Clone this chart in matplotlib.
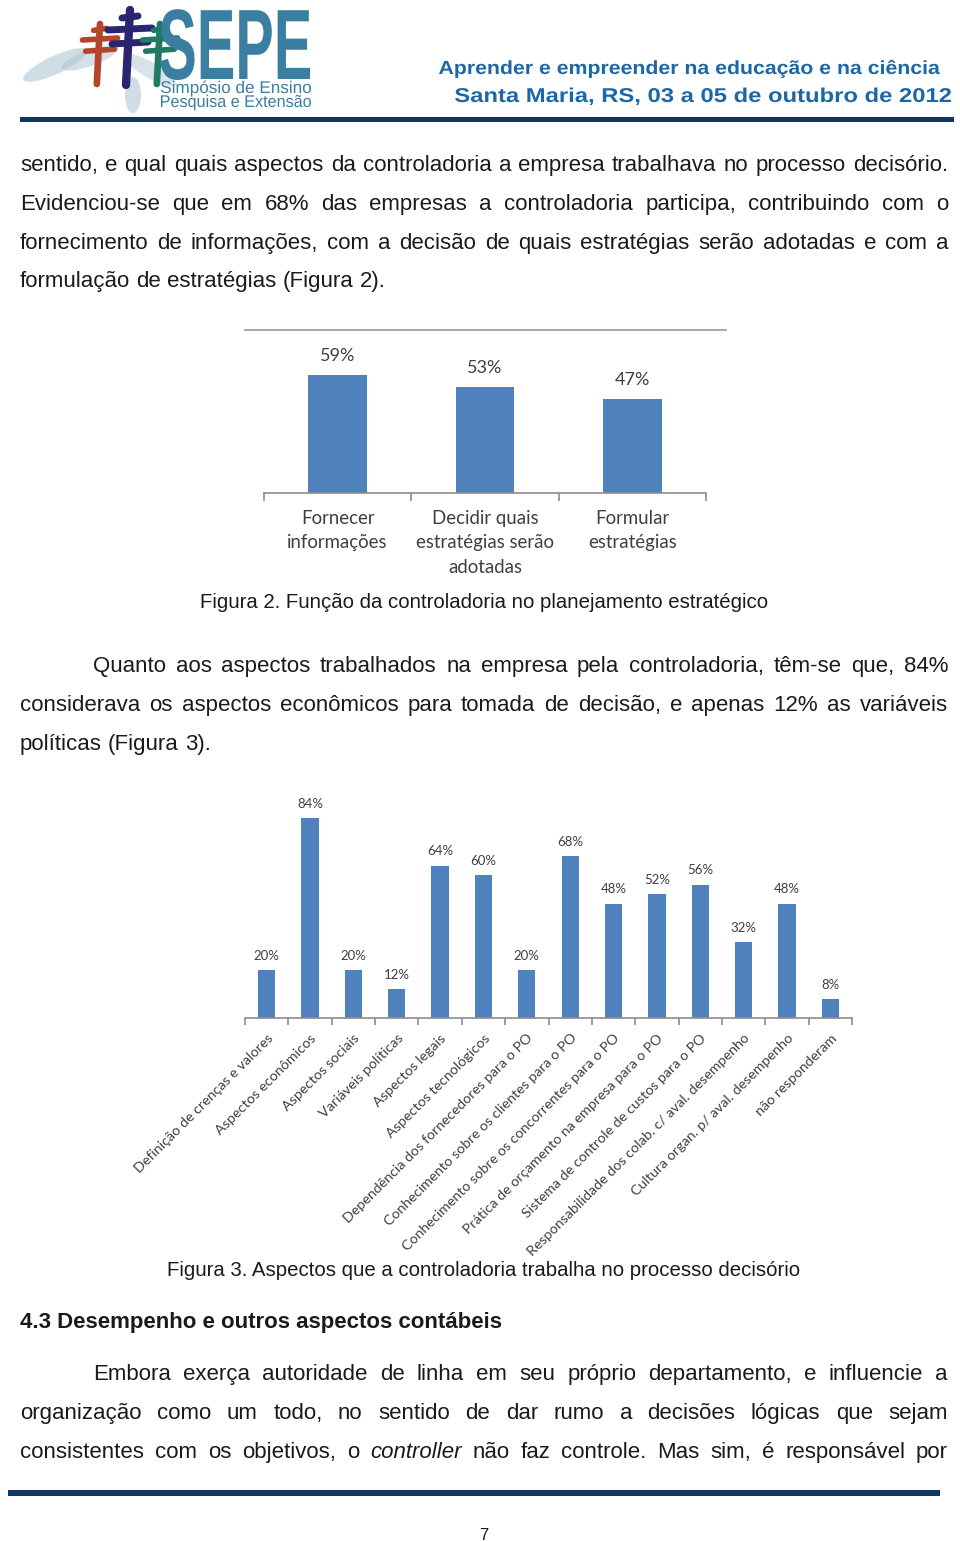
import matplotlib
matplotlib.use("Agg")
import matplotlib.pyplot as plt
from matplotlib.textpath import TextPath
from matplotlib.patches import PathPatch, Ellipse
from matplotlib.font_manager import FontProperties
from matplotlib.transforms import Affine2D
import numpy as np

# ---------------- data ----------------
fig2_categories = ["Fornecer\ninformações", "Decidir quais\nestratégias serão\nadotadas", "Formular\nestratégias"]
fig2_values = [59, 53, 47]

fig3_categories = [
    "Definição de crenças e valores",
    "Aspectos econômicos",
    "Aspectos sociais",
    "Variáveis políticas",
    "Aspectos legais",
    "Aspectos tecnológicos",
    "Dependência dos fornecedores para o PO",
    "Conhecimento sobre os clientes para o PO",
    "Conhecimento sobre os concorrentes para o PO",
    "Prática de orçamento na empresa para o PO",
    "Sistema de controle de custos para o PO",
    "Responsabilidade dos colab. c/ aval. desempenho",
    "Cultura organ. p/ aval. desempenho",
    "não responderam",
]
fig3_values = [20, 84, 20, 12, 64, 60, 20, 68, 48, 52, 56, 32, 48, 8]

header_line1 = "Aprender e empreender na educação e na ciência"
header_line2 = "Santa Maria, RS, 03 a 05 de outubro de 2012"

para1 = [
    "sentido, e qual quais aspectos da controladoria a empresa trabalhava no processo decisório.",
    "Evidenciou-se que em 68% das empresas a controladoria participa, contribuindo com o",
    "fornecimento de informações, com a decisão de quais estratégias serão adotadas e com a",
    "formulação de estratégias (Figura 2).",
]
para2 = [
    "Quanto aos aspectos trabalhados na empresa pela controladoria, têm-se que, 84%",
    "considerava os aspectos econômicos para tomada de decisão, e apenas 12% as variáveis",
    "políticas (Figura 3).",
]
para3 = [
    "Embora exerça autoridade de linha em seu próprio departamento, e influencie a",
    "organização como um todo, no sentido de dar rumo a decisões lógicas que sejam",
    "consistentes com os objetivos, o _controller_ não faz controle. Mas sim, é responsável por",
]
caption2 = "Figura 2. Função da controladoria no planejamento estratégico"
caption3 = "Figura 3. Aspectos que a controladoria trabalha no processo decisório"
heading = "4.3 Desempenho e outros aspectos contábeis"
page_number = "7"

# ---------------- figure ----------------
W, H = 960, 1541
fig = plt.figure(figsize=(W / 100, H / 100), dpi=100)
fig.patch.set_facecolor("white")

page = fig.add_axes([0, 0, 1, 1], zorder=0)
page.set_xlim(0, W)
page.set_ylim(H, 0)
page.axis("off")
page.patch.set_alpha(0)

BODY = "Liberation Sans"
CHART = "Lato"
TXT = "#1a1a1a"
BAR = "#4f81bd"
AXC = "#8c8c8c"
LBL = "#3f3f3f"
NAVY = "#0e3768"
HBLUE = "#1c67a8"
BODY_SIZE = 16
renderer = fig.canvas.get_renderer()


def box(rect):
    l, b, r, t = rect
    return [l / W, 1 - b / H, (r - l) / W, (b - t) / H]


def path_text(x, baseline, s, size, color, weight="normal", family=BODY,
              width=None, ha="left", alpha=1.0, style="normal"):
    fp = FontProperties(family=family, weight=weight, style=style)
    tp = TextPath((0, 0), s, size=size, prop=fp)
    ext = tp.get_extents()
    sx = width / ext.width if width else 1.0
    w = ext.width * sx
    x0 = x if ha == "left" else (x - w if ha == "right" else x - w / 2)
    tr = Affine2D().translate(-ext.x0, 0).scale(sx, -1).translate(x0, baseline)
    page.add_patch(PathPatch(tr.transform_path(tp), fc=color, ec="none",
                             alpha=alpha, zorder=3))
    return w


def draw_line(parts, x0, baseline, x1=None, size=BODY_SIZE, color=TXT):
    """Words wrapped in _..._ are italic. Justify to x1 if given."""
    words = parts.split(" ")
    arts = []
    for w in words:
        style = "normal"
        if w.startswith("_") and "_" in w[1:]:
            style = "italic"
            w = w.replace("_", "")
        t = page.text(x0, baseline, w, fontsize=size, family=BODY, style=style,
                      color=color, va="baseline", ha="left")
        arts.append(t)
    widths = [a.get_window_extent(renderer).width for a in arts]
    t1 = page.text(0, 0, "a a", fontsize=size, family=BODY)
    t2 = page.text(0, 0, "aa", fontsize=size, family=BODY)
    sp = t1.get_window_extent(renderer).width - t2.get_window_extent(renderer).width
    t1.remove(); t2.remove()
    if x1 is not None and len(words) > 1:
        sp = (x1 - x0 - sum(widths)) / (len(words) - 1)
    x = x0
    for a, wd in zip(arts, widths):
        a.set_x(x)
        x += wd + sp


def paragraph(lines, baselines, indent_first=False, justify_last=False):
    for i, (ln, y) in enumerate(zip(lines, baselines)):
        x0 = 93 if (indent_first and i == 0) else 20
        last = i == len(lines) - 1
        draw_line(ln, x0, y, None if (last and not justify_last) else 948)


# ---------------- header ----------------
for (cx, cy, w_, h_, ang, a) in [(55, 65, 70, 18, -25, 0.55), (90, 58, 60, 16, -20, 0.5),
                                 (150, 70, 60, 16, 30, 0.45), (133, 95, 16, 36, 0, 0.55)]:
    page.add_patch(Ellipse((cx, cy), w_, h_, angle=ang, fc="#a9c3cf", ec="none", alpha=a, zorder=1))
for (cx, cy, col, sc) in [(100, 40, "#b5452a", 0.8), (130, 30, "#2b2470", 1.0), (160, 40, "#1f7a66", 0.8)]:
    page.plot([cx, cx - 4 * sc], [cy - 20 * sc, cy + 55 * sc], color=col, lw=6 * sc,
              solid_capstyle="round", zorder=2)
    for dy, half in [(0, 22), (14, 18), (-12, 8)]:
        page.plot([cx - half * sc, cx + half * sc], [cy + dy * sc, cy + dy * sc - 2],
                  color=col, lw=5 * sc, solid_capstyle="round", zorder=2)
path_text(160, 79, "SEPE", 100, "#3a7fa1", weight="bold", width=150)
path_text(161, 93, "Simpósio de Ensino", 17, "#3a7fa1", width=150)
path_text(161, 107, "Pesquisa e Extensão", 17, "#3a7fa1", width=150)
path_text(940, 74, header_line1, 19, HBLUE, weight="bold", width=501, ha="right")
path_text(951, 102, header_line2, 20, HBLUE, weight="bold", width=496, ha="right")
page.add_patch(plt.Rectangle((20, 117), 934, 5, fc=NAVY, ec="none", zorder=2))

# ---------------- paragraph 1 ----------------
paragraph(para1, [171, 210, 249, 287])

# ---------------- figure 2 ----------------
page.plot([245, 726], [330, 330], color="#9a9a9a", lw=1.2, zorder=2)
ax1 = fig.add_axes(box((264, 493, 706, 333)), zorder=2)
x1 = np.arange(len(fig2_values))
ax1.bar(x1, fig2_values, width=0.4, color=BAR, zorder=2)
ax1.set_xlim(-0.5, len(fig2_values) - 0.5)
ax1.set_ylim(0, 80)
ax1.patch.set_alpha(0)
for s in ["left", "right", "top"]:
    ax1.spines[s].set_visible(False)
ax1.spines["bottom"].set_color(AXC)
ax1.spines["bottom"].set_linewidth(1.2)
ax1.set_yticks([])
ax1.set_xticks(x1)
ax1.set_xticklabels(fig2_categories, family=CHART, fontsize=13.4, color=LBL, linespacing=1.55)
ax1.tick_params(axis="x", which="major", length=0, pad=12)
ax1.set_xticks(np.arange(len(fig2_values) + 1) - 0.5, minor=True)
ax1.tick_params(axis="x", which="minor", length=6, color=AXC, width=1.2)
for xi, v in zip(x1, fig2_values):
    ax1.annotate(f"{v}%", (xi, v), xytext=(0, 8), textcoords="offset points",
                 ha="center", va="bottom", family=CHART, fontsize=13, color=LBL)
page.text(484, 602, caption2, fontsize=14.7, family=BODY, color=TXT, ha="center", va="center")

# ---------------- paragraph 2 ----------------
paragraph(para2, [672, 711, 750], indent_first=True)

# ---------------- figure 3 ----------------
ax3 = fig.add_axes(box((245, 1018, 852, 800)), zorder=2)
x3 = np.arange(len(fig3_values))
ax3.bar(x3, fig3_values, width=0.4, color=BAR, zorder=2)
ax3.set_xlim(-0.5, len(fig3_values) - 0.5)
ax3.set_ylim(0, 91.6)
ax3.patch.set_alpha(0)
for s in ["left", "right", "top"]:
    ax3.spines[s].set_visible(False)
ax3.spines["bottom"].set_color(AXC)
ax3.spines["bottom"].set_linewidth(1.2)
ax3.set_yticks([])
ax3.set_xticks(x3)
ax3.set_xticklabels(fig3_categories, family=CHART, fontsize=10.3, color=LBL,
                    rotation=45, ha="right", rotation_mode="anchor")
ax3.tick_params(axis="x", which="major", length=0, pad=10)
ax3.set_xticks(np.arange(len(fig3_values) + 1) - 0.5, minor=True)
ax3.tick_params(axis="x", which="minor", length=5, color=AXC, width=1.2)
for xi, v in zip(x3, fig3_values):
    ax3.annotate(f"{v}%", (xi, v), xytext=(0, 6), textcoords="offset points",
                 ha="center", va="bottom", family=CHART, fontsize=9.5, color=LBL)
page.text(484, 1271, caption3, fontsize=14.7, family=BODY, color=TXT, ha="center", va="center")

# ---------------- heading + paragraph 3 ----------------
page.text(20, 1328, heading, fontsize=16, family=BODY, weight="bold", color=TXT, va="baseline")
paragraph(para3, [1380, 1419, 1458], indent_first=True, justify_last=True)

# ---------------- footer ----------------
page.add_patch(plt.Rectangle((8, 1490), 932, 6, fc=NAVY, ec="none", zorder=2))
page.text(484, 1535, page_number, fontsize=12, family=BODY, color=TXT, ha="center", va="center")

fig.savefig("out.png", dpi=100, facecolor="white")
